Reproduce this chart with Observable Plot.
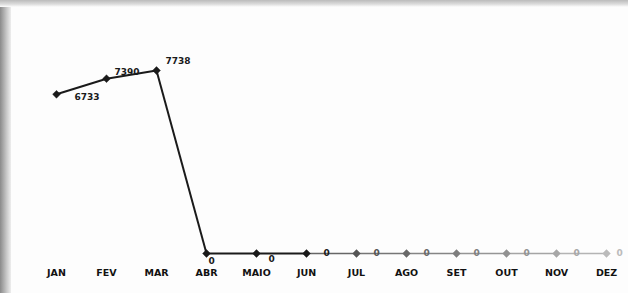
<!DOCTYPE html>
<html><head><meta charset="utf-8">
<script src="https://cdn.jsdelivr.net/npm/d3@7"></script>
<script src="https://cdn.jsdelivr.net/npm/@observablehq/plot@0.6"></script>
<style>
html,body{margin:0;padding:0;background:#fff;}
#wrap{position:relative;width:628px;height:293px;overflow:hidden;background:#fdfdfd;}
#wrap::before{content:"";position:absolute;left:0;top:0;width:11px;height:293px;background:linear-gradient(90deg,#8a8a8a,#c8c8c8 60%,#eee);}
#wrap::after{content:"";position:absolute;left:0;top:0;width:628px;height:7px;background:linear-gradient(180deg,#bbb,#ddd 60%,#fdfdfd);}
svg{position:absolute;left:0;top:0;}
</style>
</head><body><div id="wrap"></div>
<script>
const months = ["JAN","FEV","MAR","ABR","MAIO","JUN","JUL","AGO","SET","OUT","NOV","DEZ"];
const values = [6733,7390,7738,0,0,0,0,0,0,0,0,0];

const data = months.map((m,i)=>({m, v: values[i], i}));
const segs = data.slice(1).map((d,k)=>({m1: data[k].m, v1: data[k].v, m2: d.m, v2: d.v, i: k}));
const shade = i => i < 6 ? "#1a1a1a" : d3.interpolateRgb("#555","#bbb")((i-6)/5);
const segShade = i => i < 5 ? "#1a1a1a" : d3.interpolateRgb("#666","#c4c4c4")((i-5)/6);

const labelAnchor = (d) => {
  if (d.i === 0) return {dx: 18, dy: 3, anchor: "start"};
  if (d.i === 1) return {dx: 8, dy: -7, anchor: "start"};
  if (d.i === 2) return {dx: 9, dy: -9, anchor: "start"};
  if (d.i === 3) return {dx: 5, dy: 8, anchor: "middle"};
  if (d.i === 4) return {dx: 15, dy: 6, anchor: "middle"};
  if (d.i === 11) return {dx: 13, dy: 0, anchor: "middle"};
  return {dx: 20, dy: 0, anchor: "middle"};
};

const textMarks = data.map(d => {
  const a = labelAnchor(d);
  return Plot.text([d], {x:"m", y:"v", text: d => String(d.v), dx:a.dx, dy:a.dy, textAnchor:a.anchor,
    fontSize: 9, fontWeight: "bold", fill: shade(d.i), fontFamily:"DejaVu Sans, sans-serif"});
});

const chart = Plot.plot({
  width: 628, height: 293,
  marginLeft: 0, marginRight: 0, marginTop: 0, marginBottom: 0,
  style: {background: "transparent", fontFamily: "DejaVu Sans, sans-serif"},
  x: {type: "point", domain: months, range: [52, 610], padding: 0, label: null},
  y: {domain: [0, 7738], range: [253, 70], axis: null},
  marks: [
    Plot.ruleY([0], {x1: "JAN", x2: "DEZ", stroke: "#9a9a9a", strokeWidth: 1, insetLeft: -28, insetRight: -14}),
    Plot.axisX({tickSize: 0, tickPadding: 0, fontSize: 9.5, fontWeight: "bold", fill: "#111", anchor: "bottom", dy: -24}),
    Plot.link(segs, {x1:"m1", y1:"v1", x2:"m2", y2:"v2", stroke: d => segShade(d.i), strokeWidth: d => d.i < 5 ? 2 : 1.3}),
    Plot.dot(data, {x:"m", y:"v", symbol:"diamond2", r: 3.5, fill: d => shade(d.i), stroke: d => shade(d.i), strokeWidth: 0.5}),
    ...textMarks
  ]
});
document.getElementById("wrap").appendChild(chart);
</script>
</body></html>
